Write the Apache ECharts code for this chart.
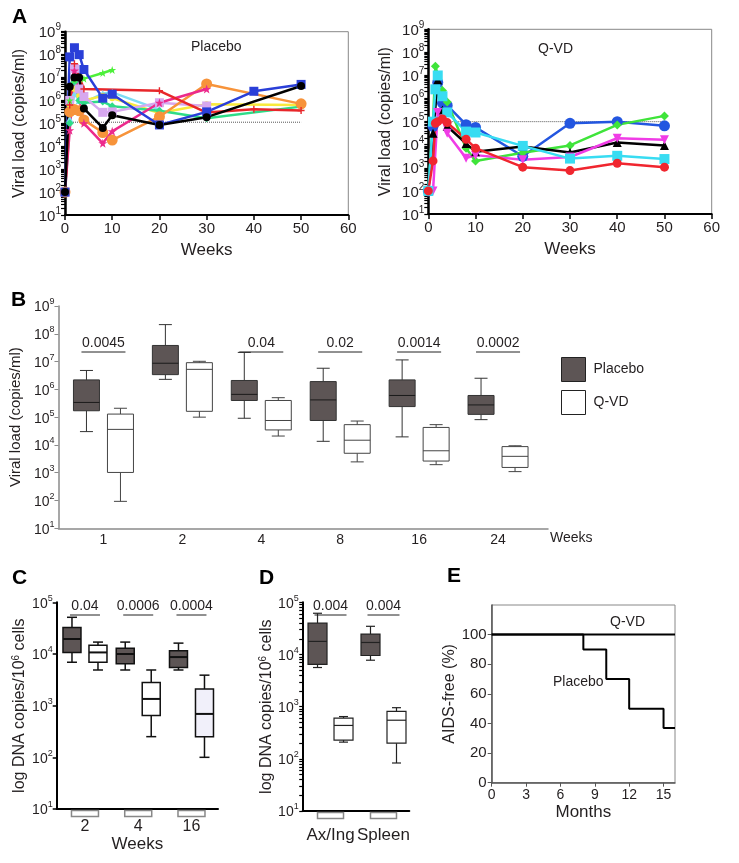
<!DOCTYPE html>
<html><head><meta charset="utf-8">
<script src="https://cdn.jsdelivr.net/npm/echarts@6/dist/echarts.min.js"></script>
<style>html,body{margin:0;padding:0;background:#fff}#c{width:739px;height:863px}</style>
</head><body><div id="c"></div>
<script>
// ================= DATA (log10 of copies) =================
// Panel A – Placebo
const placeboWeeks = [0, 1, 2, 3, 4, 8, 10, 20, 30, 40, 50];
const plCyan     = [2, 5.2, 6.3, 6.0, 5.9, 6.3, 6.35, 5.6, null, null, null];
const plYellow   = [2, 5.8, 6.5, 6.2, 6.0, 6.2, 6.1, 5.45, 5.83, null, 5.8];
const plSpring   = [2, 5.0, 6.8, 6.0, 5.9, 5.95, 5.75, 5.55, 5.22, null, 5.73];
const plLavender = [2, 6.0, 7.4, 6.5, 6.17, 5.48, 5.5, 5.9, 5.76, null, null];
const plLime     = [2, 6.0, 6.9, 7.0, 6.95, 7.2, 7.33, null, null, null, null];
const plOrange   = [2, 5.5, 5.6, 5.55, 5.15, 4.6, 4.27, 5.29, 6.72, null, 5.85];
const plPink     = [2, 4.7, 7.3, null, 5.0, 4.13, 4.65, 5.9, 6.5, null, null];
const plRed      = [2, 5.8, 7.6, null, 6.5, null, null, 6.42, 5.47, 5.62, 5.56];
const plBlue     = [2, 7.9, 8.3, 8.0, 7.35, 6.1, 6.27, 4.93, 5.5, 6.4, 6.7];
const plBlack    = [2, 6.6, 7.0, 7.0, 5.65, 4.8, 5.35, 4.93, 5.27, null, 6.63];
const placeboThreshold = 5.05;
// Panel A – Q-VD
const qvdWeeks = [0, 1, 1.5, 2, 3, 4, 8, 10, 20, 30, 40, 50];
const qvBlue    = [2, 4.8, null, 6.7, 5.8, 5.7, 4.87, 4.75, 3.5, 4.93, 5.0, 4.82];
const qvGreen   = [2, 5.0, 7.4, null, 6.35, 5.85, 3.85, 3.3, 3.65, 3.97, 4.86, 5.25];
const qvBlack   = [2, 4.5, null, 6.8, 5.5, 4.8, 4.05, 3.7, 3.92, 3.66, 4.1, 3.97];
const qvMagenta = [2, 2, null, 5.4, 5.1, 4.5, 3.42, 3.55, 3.35, 3.47, 4.28, 4.22];
const qvCyan    = [2, 5.0, 6.4, 7.0, 6.1, 5.4, 4.57, 4.53, 3.95, 3.4, 3.52, 3.38];
const qvRed     = [2, 3.3, 4.93, 5.0, 5.12, 4.96, 4.24, 3.85, 3.03, 2.88, 3.2, 3.03];
const qvdThreshold = 5.0;
// Panel B – box stats [min, q1, median, q3, max]
const bWeeks = ['1', '2', '4', '8', '16', '24'];
const bPlacebo = [[4.48,5.23,5.53,6.34,6.68],[6.36,6.53,6.94,7.58,8.33],[4.96,5.60,5.82,6.32,7.33],
                  [4.13,4.88,5.62,6.28,6.76],[4.29,5.38,5.78,6.34,7.06],[4.91,5.10,5.44,5.78,6.40]];
const bQvd = [[1.97,3.01,4.56,5.11,5.32],[5.00,5.21,6.72,6.96,7.01],[4.32,4.54,4.88,5.60,5.70],
              [3.39,3.70,4.17,4.73,4.86],[3.29,3.42,3.79,4.63,4.73],[3.04,3.19,3.59,3.94,3.97]];
const bPvals = ['0.0045', '', '0.04', '0.02', '0.0014', '0.0002'];
// Panel C
const cWeeks = ['2', '4', '16'];
const cPlacebo = [[3.84,4.03,4.29,4.51,4.71],[3.69,3.81,4.00,4.11,4.23],[3.69,3.74,3.94,4.06,4.21]];
const cQvd = [[3.69,3.84,4.03,4.17,4.23],[2.40,2.81,3.13,3.45,3.69],[2.00,2.40,2.84,3.32,3.59]];
const cPvals = ['0.04', '0.0006', '0.0004'];
// Panel D
const dTissues = ['Ax/Ing', 'Spleen'];
const dPlacebo = [[3.75,3.81,4.25,4.60,4.79],[3.89,3.98,4.23,4.39,4.54]];
const dQvd = [[2.32,2.36,2.64,2.78,2.81],[1.92,2.30,2.74,2.91,2.98]];
const dPvals = ['0.004', '0.004'];
// Panel E
const eMonthsPlacebo = [0, 8, 10, 12, 15, 16];
const eFreePlacebo   = [100, 90, 70, 50, 37, 37];
const eMonthsQvd = [0, 16];
const eFreeQvd   = [100, 100];

// ================= STYLE HELPERS =================
const FONT = '"Liberation Sans", Arial, Helvetica, sans-serif';
const TXT = '#231f20';
const logTicks9 = [], logTicks5 = [];
for (let n = 1; n < 9; n++) for (let k = 1; k < 10; k++) logTicks9.push(n + Math.log10(k));
logTicks9.push(9);
logTicks9.forEach(v => { if (v <= 5) logTicks5.push(v); });

function sup(bs, ss) {
  return {
    b: {fontSize: bs, lineHeight: bs + 3, verticalAlign: 'bottom', fontFamily: FONT, color: TXT},
    s: {fontSize: ss, lineHeight: ss, verticalAlign: 'top', fontFamily: FONT, color: TXT}
  };
}
const supFmt = v => '{b|10}{s|' + Math.round(v) + '}';
const pairs = (xs, ys) => xs.map((x, i) => [x, ys[i]]).filter(p => p[1] !== null);

function aSeries(xi, yi, xs, ys, color, symbol, size, extra) {
  return Object.assign({
    type: 'line', xAxisIndex: xi, yAxisIndex: yi, data: pairs(xs, ys),
    symbol: symbol, symbolSize: size, color: color,
    lineStyle: {width: 2.5, color: color}, itemStyle: {color: color},
    silent: true, z: 3
  }, extra || {});
}

function boxRenderer(cfg) {
  return function (params, api) {
    const i = api.value(0);
    const pts = [1, 2, 3, 4, 5].map(k => api.coord([i, api.value(k)]));
    const cx = pts[0][0] + cfg.offset;
    const yMin = pts[0][1], yQ1 = pts[1][1], yMed = pts[2][1], yQ3 = pts[3][1], yMax = pts[4][1];
    const fill = (cfg.fills && cfg.fills[params.dataIndex]) || cfg.fill;
    const ls = {stroke: cfg.stroke, lineWidth: cfg.lineWidth};
    const hw = cfg.width / 2, hc = cfg.cap / 2;
    return {type: 'group', children: [
      {type: 'line', shape: {x1: cx, y1: yMax, x2: cx, y2: yQ3}, style: ls},
      {type: 'line', shape: {x1: cx - hc, y1: yMax, x2: cx + hc, y2: yMax}, style: ls},
      {type: 'line', shape: {x1: cx, y1: yQ1, x2: cx, y2: yMin}, style: ls},
      {type: 'line', shape: {x1: cx - hc, y1: yMin, x2: cx + hc, y2: yMin}, style: ls},
      {type: 'rect', shape: {x: cx - hw, y: yQ3, width: cfg.width, height: yQ1 - yQ3},
        style: {fill: fill, stroke: cfg.stroke, lineWidth: cfg.lineWidth}},
      {type: 'line', shape: {x1: cx - hw, y1: yMed, x2: cx + hw, y2: yMed},
        style: {stroke: cfg.median || cfg.stroke, lineWidth: cfg.medianWidth || cfg.lineWidth}}
    ]};
  };
}
function boxSeries(name, xi, yi, stats, color, cfg) {
  return {
    type: 'custom', name: name, xAxisIndex: xi, yAxisIndex: yi,
    data: stats.map((v, i) => [i].concat(v)),
    encode: {x: 0, y: [1, 2, 3, 4, 5]},
    itemStyle: {color: color}, renderItem: boxRenderer(cfg), silent: true, z: 4
  };
}
function pvalSeries(xi, yi, labels, topVal, dy, half, fs) {
  const idx = [], txt = [];
  labels.forEach((l, i) => { if (l) { idx.push(i); txt.push(l); } });
  return {
    type: 'custom', xAxisIndex: xi, yAxisIndex: yi, silent: true, z: 5,
    data: idx.map(i => [i, topVal]), encode: {x: 0, y: 1},
    renderItem: function (params, api) {
      const p = api.coord([api.value(0), api.value(1)]);
      const ly = p[1] + dy;
      return {type: 'group', children: [
        {type: 'line', shape: {x1: p[0] - half, y1: ly, x2: p[0] + half, y2: ly}, style: {stroke: '#222', lineWidth: 1}},
        {type: 'text', style: {text: txt[params.dataIndex], x: p[0], y: ly - 1.5, align: 'center',
          verticalAlign: 'bottom', fontSize: fs, fontFamily: FONT, fill: TXT}}
      ]};
    }
  };
}
function tabSeries(xi, yi, n, minVal, w) {
  const d = [];
  for (let i = 0; i < n; i++) d.push([i, minVal]);
  return {
    type: 'custom', xAxisIndex: xi, yAxisIndex: yi, silent: true, z: 1, data: d, encode: {x: 0, y: 1},
    renderItem: function (params, api) {
      const p = api.coord([api.value(0), api.value(1)]);
      return {type: 'rect', shape: {x: p[0] - w / 2, y: p[1] + 1.5, width: w, height: 6},
        style: {fill: '#fff', stroke: '#888', lineWidth: 1.5}};
    }
  };
}

const axName = (fs) => ({fontSize: fs, fontFamily: FONT, color: TXT});
function aX(gi) {
  return {gridIndex: gi, type: 'value', min: 0, max: 60, interval: 10,
    axisLine: {onZero: false, lineStyle: {color: '#000', width: 2}},
    axisTick: {length: 5, lineStyle: {color: '#000', width: 1.5}},
    axisLabel: {fontSize: 15, fontFamily: FONT, color: TXT, margin: 6},
    splitLine: {show: false},
    name: 'Weeks', nameLocation: 'middle', nameGap: 27, nameTextStyle: axName(17)};
}
function aY(gi, gap) {
  return {gridIndex: gi, type: 'value', position: 'left', min: 1, max: 9, interval: 1,
    axisLine: {show: true, onZero: false, lineStyle: {color: '#000', width: 2.5}},
    axisTick: {length: 4, customValues: logTicks9, lineStyle: {color: '#000', width: 1.2}},
    axisLabel: {formatter: supFmt, rich: sup(15, 10), margin: 4},
    splitLine: {show: false},
    name: 'Viral load (copies/ml)', nameLocation: 'middle', nameGap: gap, nameRotate: 90, nameTextStyle: axName(16)};
}

const option = {
  animation: false,
  backgroundColor: '#fff',
  textStyle: {fontFamily: FONT, color: TXT},
  grid: [
    {left: 65, top: 31.7, width: 283.3, height: 183.3, show: true, borderColor: '#888', borderWidth: 1},
    {left: 428.3, top: 29.3, width: 283.4, height: 184.7, show: true, borderColor: '#888', borderWidth: 1},
    {left: 58, top: 306, width: 490, height: 222.3},
    {left: 56.7, top: 602.3, width: 161.3, height: 206.7},
    {left: 302.7, top: 602.3, width: 106.6, height: 208.7},
    {left: 491.7, top: 605, width: 183.3, height: 177.7, show: true, borderColor: '#888', borderWidth: 1}
  ],
  xAxis: [
    aX(0), aX(1),
    {gridIndex: 2, type: 'value', min: -0.57, max: 5.633,
      axisLine: {onZero: false, lineStyle: {color: '#8a8a8a', width: 1.5}}, axisTick: {show: false}, splitLine: {show: false},
      axisLabel: {customValues: [0, 1, 2, 3, 4, 5], formatter: v => bWeeks[Math.round(v)], fontSize: 14, fontFamily: FONT, color: TXT, margin: 5}},
    {gridIndex: 3, type: 'value', min: -0.531, max: 2.498,
      axisLine: {onZero: false, lineStyle: {color: '#000', width: 2}}, axisTick: {show: false}, splitLine: {show: false},
      axisLabel: {customValues: [0, 1, 2], formatter: v => cWeeks[Math.round(v)], fontSize: 16, fontFamily: FONT, color: TXT, margin: 10},
      name: 'Weeks', nameLocation: 'middle', nameGap: 27, nameTextStyle: axName(17)},
    {gridIndex: 4, type: 'value', min: -0.525, max: 1.487,
      axisLine: {onZero: false, lineStyle: {color: '#000', width: 2}}, axisTick: {show: false}, splitLine: {show: false},
      axisLabel: {customValues: [0, 1], formatter: v => dTissues[Math.round(v)], fontSize: 17, fontFamily: FONT, color: TXT, margin: 16}},
    {gridIndex: 5, type: 'value', min: 0, max: 16,
      axisLine: {onZero: false, lineStyle: {color: '#555', width: 1.5}},
      axisTick: {customValues: [0, 3, 6, 9, 12, 15], length: 4, lineStyle: {color: '#555'}}, splitLine: {show: false},
      axisLabel: {customValues: [0, 3, 6, 9, 12, 15], fontSize: 14, fontFamily: FONT, color: TXT, margin: 5},
      name: 'Months', nameLocation: 'middle', nameGap: 21, nameTextStyle: axName(17)}
  ],
  yAxis: [
    aY(0, 37),
    aY(1, 35),
    {gridIndex: 2, type: 'value', position: 'left', min: 1, max: 9, interval: 1,
      axisLine: {show: true, onZero: false, lineStyle: {color: '#8a8a8a', width: 1.5}},
      axisTick: {length: 4, lineStyle: {color: '#8a8a8a'}}, splitLine: {show: false},
      axisLabel: {formatter: supFmt, rich: sup(14, 9), margin: 4},
      name: 'Viral load (copies/ml)', nameLocation: 'middle', nameGap: 30, nameRotate: 90, nameTextStyle: axName(15)},
    {gridIndex: 3, type: 'value', position: 'left', min: 1, max: 5, interval: 1,
      axisLine: {show: true, onZero: false, lineStyle: {color: '#000', width: 2}},
      axisTick: {length: 4, lineStyle: {color: '#000', width: 1.5}}, splitLine: {show: false},
      axisLabel: {formatter: supFmt, rich: sup(14, 9), margin: 4},
      name: 'log DNA copies/10{s|6} cells', nameLocation: 'middle', nameGap: 29, nameRotate: 90,
      nameTextStyle: {fontSize: 16, fontFamily: FONT, color: TXT, rich: {s: {fontSize: 10, lineHeight: 10, verticalAlign: 'top', fontFamily: FONT, color: TXT}}}},
    {gridIndex: 4, type: 'value', position: 'left', min: 1, max: 5, interval: 1,
      axisLine: {show: true, onZero: false, lineStyle: {color: '#000', width: 2}},
      axisTick: {length: 3.5, customValues: logTicks5, lineStyle: {color: '#000', width: 1.2}}, splitLine: {show: false},
      axisLabel: {formatter: supFmt, rich: sup(14, 9), margin: 4},
      name: 'log DNA copies/10{s|6} cells', nameLocation: 'middle', nameGap: 22, nameRotate: 90,
      nameTextStyle: {fontSize: 16, fontFamily: FONT, color: TXT, rich: {s: {fontSize: 10, lineHeight: 10, verticalAlign: 'top', fontFamily: FONT, color: TXT}}}},
    {gridIndex: 5, type: 'value', position: 'left', min: 0, max: 120,
      axisLine: {show: true, onZero: false, lineStyle: {color: '#555', width: 1.5}},
      axisTick: {customValues: [0, 20, 40, 60, 80, 100], length: 4, lineStyle: {color: '#555'}}, splitLine: {show: false},
      axisLabel: {customValues: [0, 20, 40, 60, 80, 100], fontSize: 15, fontFamily: FONT, color: TXT, margin: 5},
      name: 'AIDS-free (%)', nameLocation: 'middle', nameGap: 27, nameRotate: 90, nameTextStyle: axName(16)}
  ],
  legend: {
    data: ['Placebo', 'Q-VD'], orient: 'vertical', left: 556, top: 352, itemWidth: 24, itemHeight: 24, itemGap: 8,
    icon: 'rect', selectedMode: false,
    itemStyle: {borderColor: '#222', borderWidth: 1},
    textStyle: {fontSize: 14, fontFamily: FONT, color: TXT, padding: [0, 0, 0, 3]}
  },
  series: [
    // ---- A left (Placebo) ----
    {type: 'line', xAxisIndex: 0, yAxisIndex: 0, data: [[0, placeboThreshold], [50, placeboThreshold]], symbol: 'none',
      lineStyle: {type: 'dotted', color: '#555', width: 1}, silent: true, z: 2},
    aSeries(0, 0, placeboWeeks, plCyan, '#7fdcf4', 'triangle', 7),
    aSeries(0, 0, placeboWeeks, plYellow, '#f9ea3c', 'circle', 6),
    aSeries(0, 0, placeboWeeks, plSpring, '#2edc88', 'diamond', 8),
    aSeries(0, 0, placeboWeeks, plLavender, '#d7a8ef', 'rect', 9),
    aSeries(0, 0, placeboWeeks, plLime, '#4df03a', 'path://M5,0L6.2,3.6L10,3.6L7,5.8L8.1,9.5L5,7.3L1.9,9.5L3,5.8L0,3.6L3.8,3.6Z', 8),
    aSeries(0, 0, placeboWeeks, plOrange, '#f7933a', 'circle', 11),
    aSeries(0, 0, placeboWeeks, plPink, '#ec2a8c', 'path://M5,0L6.2,3.6L10,3.6L7,5.8L8.1,9.5L5,7.3L1.9,9.5L3,5.8L0,3.6L3.8,3.6Z', 9),
    aSeries(0, 0, placeboWeeks, plRed, '#e8262a', 'path://M4,0H6V4H10V6H6V10H4V6H0V4H4Z', 7),
    aSeries(0, 0, placeboWeeks, plBlue, '#2a3fd8', 'rect', 9),
    aSeries(0, 0, placeboWeeks, plBlack, '#000000', 'circle', 8),
    // ---- A right (Q-VD) ----
    {type: 'line', xAxisIndex: 1, yAxisIndex: 1, data: [[0, qvdThreshold], [50, qvdThreshold]], symbol: 'none',
      lineStyle: {type: 'dotted', color: '#555', width: 1}, silent: true, z: 2},
    aSeries(1, 1, qvdWeeks, qvBlue, '#2356e0', 'circle', 11),
    aSeries(1, 1, qvdWeeks, qvGreen, '#3fe43a', 'diamond', 9),
    aSeries(1, 1, qvdWeeks, qvBlack, '#000000', 'triangle', 9),
    aSeries(1, 1, qvdWeeks, qvMagenta, '#f03ce6', 'triangle', 9, {symbolRotate: 180}),
    aSeries(1, 1, qvdWeeks, qvCyan, '#38dcf2', 'rect', 10),
    aSeries(1, 1, qvdWeeks, qvRed, '#f0262f', 'circle', 9),
    // ---- B ----
    boxSeries('Placebo', 2, 2, bPlacebo, '#5d5555', {offset: -17, width: 26, cap: 13, stroke: '#333', lineWidth: 1, fill: '#5d5555', median: '#1a1a1a'}),
    boxSeries('Q-VD', 2, 2, bQvd, '#ffffff', {offset: 17, width: 26, cap: 13, stroke: '#444', lineWidth: 1, fill: '#ffffff'}),
    pvalSeries(2, 2, bPvals, 9, 46, 22, 14),
    // ---- C ----
    tabSeries(3, 3, 3, 1, 27),
    boxSeries('Placebo', 3, 3, cPlacebo, '#5d5555', {offset: -13, width: 18, cap: 10, stroke: '#111', lineWidth: 1.5, fill: '#5d5555', medianWidth: 2}),
    boxSeries('Q-VD', 3, 3, cQvd, '#ffffff', {offset: 13, width: 18, cap: 10, stroke: '#111', lineWidth: 1.5, fill: '#ffffff', fills: [null, null, '#f1f0fa'], medianWidth: 2}),
    pvalSeries(3, 3, cPvals, 5, 12.7, 15, 14),
    // ---- D ----
    tabSeries(4, 4, 2, 1, 26),
    boxSeries('Placebo', 4, 4, dPlacebo, '#5d5555', {offset: -13, width: 19, cap: 9, stroke: '#222', lineWidth: 1.2, fill: '#5d5555'}),
    boxSeries('Q-VD', 4, 4, dQvd, '#ffffff', {offset: 13, width: 19, cap: 9, stroke: '#222', lineWidth: 1.2, fill: '#ffffff'}),
    pvalSeries(4, 4, dPvals, 5, 12.7, 16, 14),
    // ---- E ----
    {type: 'line', xAxisIndex: 5, yAxisIndex: 5, data: pairs(eMonthsQvd, eFreeQvd), symbol: 'none',
      lineStyle: {color: '#000', width: 2}, silent: true},
    {type: 'line', xAxisIndex: 5, yAxisIndex: 5, data: pairs(eMonthsPlacebo, eFreePlacebo), step: 'end', symbol: 'none',
      lineStyle: {color: '#000', width: 2}, silent: true}
  ],
  graphic: [
    {type: 'text', left: 12, top: 7, style: {text: 'A', fontSize: 21, fontWeight: 900, fontFamily: FONT, fill: '#000'}},
    {type: 'text', left: 11, top: 290, style: {text: 'B', fontSize: 21, fontWeight: 900, fontFamily: FONT, fill: '#000'}},
    {type: 'text', left: 12, top: 568, style: {text: 'C', fontSize: 21, fontWeight: 900, fontFamily: FONT, fill: '#000'}},
    {type: 'text', left: 259, top: 568, style: {text: 'D', fontSize: 21, fontWeight: 900, fontFamily: FONT, fill: '#000'}},
    {type: 'text', left: 447, top: 566, style: {text: 'E', fontSize: 21, fontWeight: 900, fontFamily: FONT, fill: '#000'}},
    {type: 'text', left: 191, top: 40, style: {text: 'Placebo', fontSize: 14, fontFamily: FONT, fill: TXT}},
    {type: 'text', left: 538, top: 42, style: {text: 'Q-VD', fontSize: 14, fontFamily: FONT, fill: TXT}},
    {type: 'text', left: 550, top: 531, style: {text: 'Weeks', fontSize: 14, fontFamily: FONT, fill: TXT}},
    {type: 'text', left: 610, top: 615, style: {text: 'Q-VD', fontSize: 14, fontFamily: FONT, fill: TXT}},
    {type: 'text', left: 553, top: 675, style: {text: 'Placebo', fontSize: 14, fontFamily: FONT, fill: TXT}}
  ]
};
const chart = echarts.init(document.getElementById('c'), null, {renderer: 'canvas'});
chart.setOption(option);
</script></body></html>
